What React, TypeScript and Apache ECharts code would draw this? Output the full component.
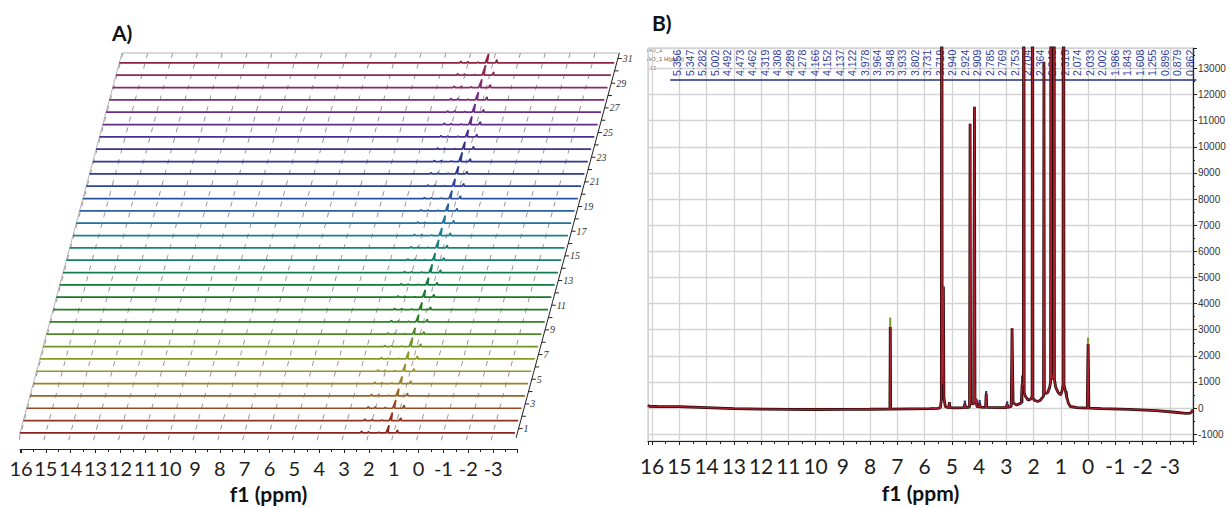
import React, { useEffect, useRef } from "react";
import * as echarts from "echarts";

// ---------- Panel A: 31 stacked 1H spectra (sheared waterfall) ----------
// Peak heights per spectrum (row 1 at the bottom), in % of one row gap
const aPeak127 = [62, 65, 67, 59, 59, 59, 59, 73, 51, 59, 59, 59, 59, 67, 57, 65, 62, 62, 59, 65, 59, 62, 75, 59, 57, 67, 67, 62, 67, 81, 73];
const aPeak087 = [24, 22, 24, 22, 22, 20, 22, 22, 20, 22, 20, 22, 20, 22, 20, 22, 20, 22, 20, 22, 22, 20, 22, 22, 20, 24, 22, 24, 24, 26, 26];
const aPeak230 = [14, 12, 14, 12, 12, 10, 12, 10, 10, 12, 10, 10, 10, 10, 10, 10, 10, 10, 10, 10, 12, 10, 10, 10, 10, 12, 12, 12, 12, 14, 14];
const aPeak202 = [10, 8, 10, 8, 8, 8, 8, 8, 8, 8, 8, 8, 8, 8, 8, 8, 8, 8, 8, 8, 8, 8, 8, 8, 8, 8, 10, 10, 10, 10, 10];
const aPeak161 = [6, 5, 6, 5, 5, 5, 5, 5, 5, 5, 5, 5, 5, 5, 5, 5, 5, 5, 5, 5, 5, 5, 5, 5, 5, 5, 6, 6, 6, 6, 6];
const aRowColors = [
  "#8c2323", "#953020", "#9a4a22", "#9b6424", "#9c8026", "#9a9526", "#8c9a24", "#6e9524",
  "#4c8c22", "#2f8424", "#1f7d22", "#177a28", "#147a3a", "#137c52", "#138069", "#15827f",
  "#1a7f92", "#2172a0", "#2761a3", "#2b51a3", "#2d44a0", "#2e3b9c", "#313598", "#3a3096",
  "#4a2e94", "#5c2c8f", "#6d2b88", "#7d2a7c", "#8a286b", "#912658", "#8e2340",
];
const aRowTickLabels = [1, 3, 5, 7, 9, 11, 13, 15, 17, 19, 21, 23, 25, 27, 29, 31];
const aGridPpm = [16, 15, 14, 13, 12, 11, 10, 9, 8, 7, 6, 5, 4, 3, 2, 1, 0, -1, -2, -3];

// ---------- Panel B: overlaid 1H spectra ----------
const bRed: number[][] = [
  [16.15, 110], [16.1, 70], [15.8, 60], [15.0, 55], [14.0, 20], [13.0, -20], [12.0, -40], [11.0, -50],
  [10.0, -55], [9.0, -50], [8.0, -45], [7.3, -40], [7.27, -40], [7.26, 3100], [7.25, -40],
  [6.5, -30], [5.8, -20], [5.5, -10], [5.42, 20], [5.385, 300], [5.37, 30000], [5.355, 900],
  [5.31, 4650], [5.29, 400], [5.24, 60], [5.15, 20], [5.11, 30], [5.09, 230], [5.07, 20],
  [4.9, 10], [4.55, 20], [4.52, 160], [4.5, 20], [4.35, 40], [4.33, 10880], [4.31, 200],
  [4.2, 150], [4.17, 11530], [4.15, 200], [4.11, 350], [4.08, 60], [4.0, 50], [3.98, 200],
  [3.96, 40], [3.76, 30], [3.74, 550], [3.72, 30], [3.0, 20], [2.97, 150], [2.95, 30],
  [2.82, 60], [2.79, 3050], [2.77, 1400], [2.75, 200], [2.62, 120], [2.45, 200], [2.42, 900],
  [2.375, 900], [2.36, 30000], [2.345, 600], [2.3, 450], [2.2, 300], [2.1, 350], [2.055, 450],
  [2.04, 30000], [2.025, 400], [1.97, 300], [1.85, 250], [1.75, 300], [1.68, 400], [1.635, 450],
  [1.62, 13250], [1.605, 600], [1.55, 550], [1.48, 600], [1.41, 800], [1.375, 1000], [1.36, 30000],
  [1.345, 1300], [1.3, 1100], [1.265, 1300], [1.25, 30000], [1.235, 1100], [1.19, 800], [1.1, 600],
  [1.0, 500], [0.95, 700], [0.915, 900], [0.9, 30000], [0.885, 900], [0.84, 700], [0.79, 450],
  [0.72, 180], [0.65, 60], [0.4, 20], [0.03, 0], [0.0, 2450], [-0.03, 0],
  [-0.5, -20], [-1.5, -50], [-2.5, -100], [-3.2, -160], [-3.6, -200], [-3.75, -190], [-3.82, -120], [-3.85, -60],
];
const bGreenTips: number[][][] = [
  [[7.28, -40], [7.26, 3470], [7.24, -40]],
  [[0.02, 0], [0.0, 2700], [-0.02, 0]],
];
const bBlueTips: number[][][] = [
  [[4.53, 20], [4.52, 290], [4.51, 20]],
  [[3.99, 20], [3.98, 310], [3.97, 20]],
  [[3.75, 20], [3.74, 650], [3.73, 20]],
  [[2.98, 20], [2.97, 260], [2.96, 20]],
  [[2.43, 200], [2.42, 1250], [2.41, 200]],
  [[0.8, 400], [0.79, 650], [0.78, 400]],
];
const bPeakLabels = [
  "5.356", "5.347", "5.282", "5.002", "4.492", "4.473", "4.462", "4.319", "4.308", "4.289", "4.278",
  "4.166", "4.152", "4.137", "4.122", "3.978", "3.964", "3.948", "3.933", "3.802", "3.731", "3.719",
  "2.940", "2.924", "2.909", "2.785", "2.769", "2.753", "2.704", "2.364", "2.346", "2.315",
  "2.074", "2.033", "2.002", "1.986", "1.843", "1.608", "1.255", "0.896", "0.879", "0.862",
];

// Waterfall geometry (ppm shift per row and spectral window)
const SHEAR = 0.1332;
const A_START = 16.04;
const A_END = -3.88;
const A_AXIS = -3.98;
const A_YMIN = 0.4;
const A_YMAX = 31.8;

const shearPt = (p: number, y: number) => [p - (y - 1) * SHEAR, y];

const bigLabel = { fontFamily: "Lato", fontSize: 21, color: "#1e1e1e" };
const axisName = { fontFamily: "Lato", fontSize: 21, fontWeight: "bold", color: "#111" };

function buildOption() {
  const series: any[] = [];

  // slanted dashed grid lines of the waterfall
  aGridPpm.forEach((p) => {
    series.push({
      type: "line", xAxisIndex: 0, yAxisIndex: 0, symbol: "none", silent: true, clip: false,
      data: [shearPt(p, A_YMIN), shearPt(p, A_YMAX)],
      lineStyle: { color: "#969696", width: 1, type: [5, 6] }, z: 1,
    });
  });
  // left edge, top edge
  series.push({
    type: "line", xAxisIndex: 0, yAxisIndex: 0, symbol: "none", silent: true, clip: false,
    data: [shearPt(A_START, A_YMIN), shearPt(A_START, A_YMAX), shearPt(A_AXIS, A_YMAX)],
    lineStyle: { color: "#b4b4b4", width: 1 }, z: 1,
  });
  // right axis carrying the spectrum numbers
  series.push({
    type: "line", xAxisIndex: 0, yAxisIndex: 0, symbol: "none", silent: true, clip: false,
    data: [shearPt(A_AXIS, A_YMIN + 0.2), shearPt(A_AXIS, A_YMAX)],
    lineStyle: { color: "#222", width: 1 }, z: 4,
  });
  series.push({
    type: "custom", xAxisIndex: 0, yAxisIndex: 0, silent: true, clip: false, z: 4,
    data: aPeak127.map((_, i) => [i + 1, i + 1]),
    renderItem: (params: any, api: any) => {
      const r = api.value(0);
      const y = r + 0.35;
      const pt = api.coord(shearPt(A_AXIS, y));
      const children: any[] = [
        { type: "line", shape: { x1: pt[0], y1: pt[1], x2: pt[0] + 4, y2: pt[1] }, style: { stroke: "#222", lineWidth: 1 } },
      ];
      if (aRowTickLabels.indexOf(r) >= 0) {
        children.push({
          type: "text",
          style: { text: String(r), x: pt[0] + 5, y: pt[1], fill: "#333", font: 'italic 10px "Liberation Serif"', verticalAlign: "middle", align: "left" },
        });
      }
      return { type: "group", children };
    },
  });

  // the 31 spectra
  aPeak127.forEach((h, i) => {
    const r = i + 1;
    const pts = [
      [A_START, 0], [2.34, 0], [2.3, aPeak230[i]], [2.26, 0], [2.06, 0], [2.02, aPeak202[i]], [1.98, 0],
      [1.65, 0], [1.61, aPeak161[i]], [1.57, 0], [1.31, 0], [1.27, h], [1.23, 0],
      [0.91, 0], [0.87, aPeak087[i]], [0.83, 0], [A_END, 0],
    ];
    series.push({
      type: "line", xAxisIndex: 0, yAxisIndex: 0, symbol: "none", silent: true, clip: false,
      data: pts.map(([p, v]) => shearPt(p, r + v / 100)),
      lineStyle: { color: aRowColors[i], width: 1.7 }, z: 3,
    });
  });

  // peak-list labels above panel B, one per category slot, reading upwards
  series.push({
    type: "custom", xAxisIndex: 3, yAxisIndex: 3, silent: true, clip: false, z: 1,
    data: bPeakLabels.map((_, i) => [i, 1]),
    renderItem: (params: any, api: any) => {
      const i = api.value(0);
      const pt = api.coord([i, 1]);
      return {
        type: "text",
        x: pt[0],
        y: pt[1] - 4,
        rotation: Math.PI / 2,
        style: {
          text: bPeakLabels[i], x: 0, y: 0, fill: "#2f3d9c",
          font: '10.5px "Liberation Sans"', align: "left", verticalAlign: "middle",
        },
      };
    },
  });

  // panel B overlays
  bGreenTips.forEach((seg) => {
    series.push({
      type: "line", xAxisIndex: 2, yAxisIndex: 2, symbol: "none", silent: true, data: seg,
      lineStyle: { color: "#7f9a2c", width: 2 }, z: 2,
    });
  });
  bBlueTips.forEach((seg) => {
    series.push({
      type: "line", xAxisIndex: 2, yAxisIndex: 2, symbol: "none", silent: true, data: seg,
      lineStyle: { color: "#2b3aa6", width: 2.2 }, z: 2,
    });
  });
  series.push({
    type: "line", xAxisIndex: 2, yAxisIndex: 2, symbol: "none", silent: true, data: bRed,
    lineStyle: { color: "#2a0808", width: 2.8 }, z: 3,
  });
  series.push({
    type: "line", xAxisIndex: 2, yAxisIndex: 2, symbol: "none", silent: true, data: bRed,
    lineStyle: { color: "#a8202e", width: 1.3 }, z: 4,
  });

  return {
    animation: false,
    backgroundColor: "#ffffff",
    grid: [
      { left: 20, top: 53, width: 605, height: 387.3 },
      { left: 20, top: 440, width: 497, height: 9 },
      { left: 648, top: 48, width: 545, height: 394, show: true, borderColor: "#c4c4c4", borderWidth: 1, backgroundColor: "transparent" },
      { left: 670.75, top: 80, width: 525, height: 10 },
    ],
    xAxis: [
      { gridIndex: 0, type: "value", min: A_START - 24.35, max: A_START, inverse: true, show: false },
      {
        gridIndex: 1, type: "value", min: -3.96, max: 16.04, inverse: true, minInterval: 1, maxInterval: 1,
        axisLine: { onZero: false, lineStyle: { color: "#222", width: 1 } },
        axisTick: { length: 4, lineStyle: { color: "#222" } },
        minorTick: { show: true, splitNumber: 2, length: 3, lineStyle: { color: "#222" } },
        splitLine: { show: false },
        axisLabel: { ...bigLabel, fontSize: 20, margin: 9, showMinLabel: false, showMaxLabel: false },
        name: "f1 (ppm)", nameLocation: "middle", nameGap: 34, nameTextStyle: axisName,
      },
      {
        gridIndex: 2, type: "value", min: -3.85, max: 16.15, inverse: true, minInterval: 1, maxInterval: 1,
        axisLine: { onZero: false, lineStyle: { color: "#222", width: 1.2 } },
        axisTick: { length: 4, lineStyle: { color: "#222" } },
        minorTick: { show: true, splitNumber: 2, length: 3, lineStyle: { color: "#222" } },
        splitLine: { show: true, lineStyle: { color: "#d3d3d3", width: 1.3 } },
        axisLabel: { ...bigLabel, margin: 14, showMinLabel: false, showMaxLabel: false },
        name: "f1 (ppm)", nameLocation: "middle", nameGap: 41, nameTextStyle: axisName,
      },
      {
        gridIndex: 3, type: "category", position: "top", data: bPeakLabels, boundaryGap: true,
        axisLine: { onZero: false, lineStyle: { color: "#22307f", width: 1.6 } },
        axisTick: { alignWithLabel: true, interval: 0, length: 3, lineStyle: { color: "#22307f" } },
        axisLabel: { show: false },
        splitLine: { show: false },
      },
    ],
    yAxis: [
      { gridIndex: 0, type: "value", min: A_YMIN, max: A_YMAX, show: false },
      { gridIndex: 1, type: "value", min: 0, max: 1, show: false },
      {
        gridIndex: 2, type: "value", position: "right", min: -1260, max: 13780, minInterval: 1000, maxInterval: 1000,
        axisLine: { show: true, onZero: false, lineStyle: { color: "#222", width: 1.2 } },
        axisTick: { show: true, length: 4, lineStyle: { color: "#222" } },
        minorTick: { show: true, splitNumber: 2, length: 2, lineStyle: { color: "#222" } },
        splitLine: { show: true, lineStyle: { color: "#d3d3d3", width: 1.3 } },
        axisLabel: {
          fontFamily: "Liberation Sans", fontSize: 10, color: "#333", margin: 5,
          showMinLabel: false, showMaxLabel: false, formatter: (v: number) => String(v),
        },
      },
      { gridIndex: 3, type: "value", min: 0, max: 1, show: false },
    ],
    graphic: [
      { type: "text", left: 112, top: 22, style: { text: "A)", font: 'bold 21px "Lato"', fill: "#111" } },
      { type: "text", left: 652, top: 12, style: { text: "B)", font: 'bold 21px "Lato"', fill: "#111" } },
      { type: "text", left: 647, top: 47, style: { text: "AO_1", font: '6px "Liberation Sans"', fill: "#555" } },
      { type: "text", left: 647, top: 56, style: { text: "AO_1 H(ppm)", font: '6px "Liberation Sans"', fill: "#555" } },
      { type: "text", left: 650, top: 65, style: { text: "11", font: '6px "Liberation Sans"', fill: "#555" } },
    ],
    series,
  };
}

export default function App() {
  const ref = useRef<HTMLDivElement>(null);
  useEffect(() => {
    if (!ref.current) return;
    const chart = echarts.init(ref.current, undefined, { renderer: "svg" });
    chart.setOption(buildOption() as any);
    return () => chart.dispose();
  }, []);
  return (
    <div
      ref={ref}
      style={{ position: "fixed", left: 0, top: 0, width: 1231, height: 508, background: "#fff" }}
    />
  );
}
